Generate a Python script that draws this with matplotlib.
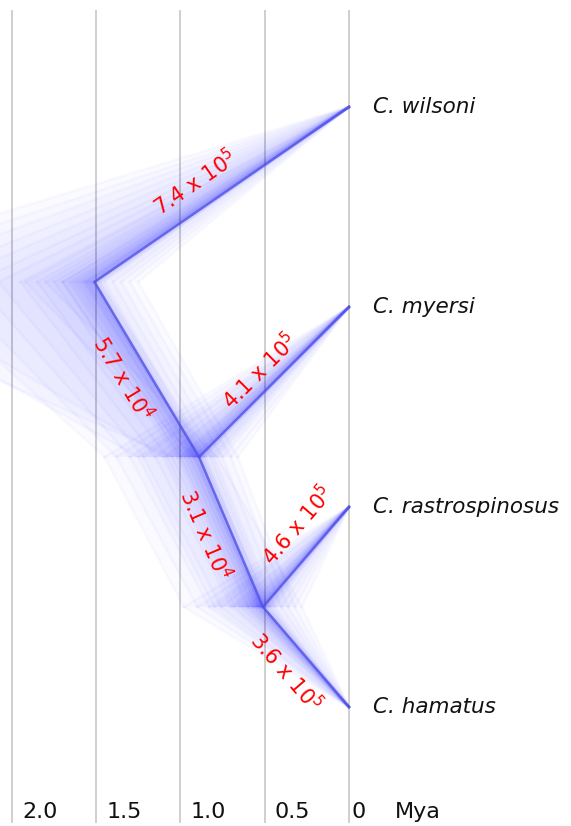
import numpy as np
import matplotlib
matplotlib.use('Agg')
import matplotlib.pyplot as plt

# tips, top to bottom
taxa = ['C. wilsoni', 'C. myersi', 'C. rastrospinosus', 'C. hamatus']

# consensus node ages (Mya)
root_age = 1.51
node2_age = 0.89
node3_age = 0.51

root_samples = [1.45, 1.58, 1.40, 1.66, 1.35, 1.75, 1.30, 1.85, 1.25, 1.95, 1.55,
                2.08, 1.48, 2.22, 1.62, 2.40, 1.70, 2.60, 1.80, 2.85, 1.92, 3.10, 3.40,
                1.50, 1.53, 1.56, 1.47, 1.60, 1.52, 1.64, 1.49, 1.70, 1.57]
node2_samples = [0.85, 0.93, 0.80, 0.97, 0.75, 1.02, 0.70, 1.08, 0.66, 1.15, 0.88,
                 1.22, 0.82, 1.30, 0.95, 1.38, 1.00, 1.45, 0.78, 1.10, 0.92, 1.25, 1.05,
                 0.88, 0.90, 0.92, 0.86, 0.95, 0.89, 0.98, 0.87, 1.00, 0.91]
node3_samples = [0.48, 0.54, 0.44, 0.57, 0.40, 0.61, 0.36, 0.65, 0.32, 0.70, 0.50,
                 0.76, 0.46, 0.83, 0.55, 0.90, 0.59, 0.98, 0.28, 0.68, 0.52, 0.80, 0.63,
                 0.50, 0.52, 0.53, 0.49, 0.55, 0.51, 0.57, 0.47, 0.60, 0.53]

# population size labels, one per branch
branch_labels = ['7.4 x 10$^5$', '5.7 x 10$^4$', '4.1 x 10$^5$',
                 '3.1 x 10$^4$', '4.6 x 10$^5$', '3.6 x 10$^5$']

tick_ages = [2.0, 1.5, 1.0, 0.5, 0]
tick_labels = ['2.0', '1.5', '1.0', '0.5', '0']

BLUE = (0.0, 0.0, 1.0)

# y of tips and internal nodes (DensiTree style: node = mean of children)
tip_y = list(range(len(taxa)))
y3 = (tip_y[2] + tip_y[3]) / 2
y2 = (tip_y[1] + y3) / 2
yr = (tip_y[0] + y2) / 2


def branches(r, n2, n3):
    # (child, parent) pairs
    return [((0, tip_y[0]), (r, yr)),
            ((n2, y2), (r, yr)),
            ((0, tip_y[1]), (n2, y2)),
            ((n3, y3), (n2, y2)),
            ((0, tip_y[2]), (n3, y3)),
            ((0, tip_y[3]), (n3, y3))]


fig = plt.figure(figsize=(5.71, 8.26), dpi=100)
ax = fig.add_axes([0, 0, 1, 1])
ax.set_xlim(2.071, -1.3175)
ax.set_ylim(3.595, -0.535)
ax.axis('off')

# grid
ax.vlines(tick_ages, -0.485, 3.58, color='#cfcfcf', lw=1.4, zorder=0)

# cloud of trees
cons = branches(root_age, node2_age, node3_age)
for r, n2, n3 in zip(root_samples, node2_samples, node3_samples):
    tree = branches(r, n2, n3)
    for (c0, p0), (ck, pk) in zip(cons, tree):
        xs = [c0[0], p0[0], pk[0], ck[0]]
        ys = [c0[1], p0[1], pk[1], ck[1]]
        ax.fill(xs, ys, color=BLUE, alpha=0.017, lw=0, zorder=1)
        ax.plot([ck[0], pk[0]], [ck[1], pk[1]], color=BLUE, alpha=0.022, lw=2, zorder=1)

# consensus tree
for c, p in cons:
    ax.plot([c[0], p[0]], [c[1], p[1]], color=(0.33, 0.33, 0.9), alpha=0.8, lw=1.8,
            solid_capstyle='round', zorder=2)

# branch labels: fraction along branch, perpendicular offset (px)
label_pos = [(0.45, 25), (0.48, -25), (0.49, 18), (0.45, -25), (0.64, 27), (0.49, -25)]
for (c, p), txt, (t, off) in zip(cons, branch_labels, label_pos):
    a = ax.transData.transform(p)
    b = ax.transData.transform(c)
    d = b - a
    L = np.hypot(*d)
    nrm = np.array([-d[1], d[0]]) / L
    pos = a + t * d + off * nrm
    x, y = ax.transData.inverted().transform(pos)
    ang = np.degrees(np.arctan2(d[1], d[0]))
    ax.text(x, y, txt, color='red', fontsize=15, rotation=ang, rotation_mode='anchor',
            ha='center', va='center', zorder=3)

# taxa
for name, y in zip(taxa, tip_y):
    ax.text(-0.14, y, name, fontsize=15.5, style='italic', ha='left', va='center', color='#111111')

# time axis labels
for age, lab in zip(tick_ages, tick_labels):
    ax.text(age - 0.06 if age > 0 else age - 0.015, 3.525, lab, fontsize=16,
            ha='left', va='center', color='#111111')
ax.text(-0.273, 3.525, 'Mya', fontsize=16, ha='left', va='center', color='#111111')

fig.savefig('out.png', dpi=100, facecolor='white')
